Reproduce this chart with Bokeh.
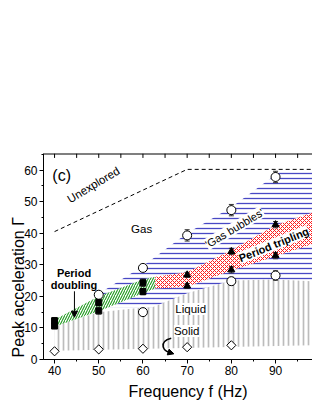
from bokeh.plotting import figure
from bokeh.models import Label, Title, SingleIntervalTicker, Arrow, NormalHead, Range1d
from bokeh.embed import file_html
from bokeh.resources import INLINE

FONT = "Liberation Sans"

# ---------------- data ----------------
# open circles: upper gas boundary
gas_f = [50, 60, 70, 80, 90]
gas_v = [20.5, 29.0, 39.3, 47.3, 57.8]
gas_err = [1.0, 0.8, 1.8, 1.8, 1.8]
# open circles: lower boundary of gas bubbles
bub_f = [60, 80, 90]
bub_v = [15.0, 24.8, 26.6]
bub_err = [0.6, 1.2, 1.5]
# black squares: period doubling
pd_f = [40, 40, 50, 50, 60, 60]
pd_v = [12.3, 10.6, 18.0, 15.4, 24.3, 21.5]
pd_err = [1.0, 0.8, 1.0, 1.0, 1.2, 1.0]
# black triangles: period tripling
pt_f = [70, 70, 80, 80, 90, 90]
pt_v = [26.8, 23.3, 34.2, 28.4, 42.7, 32.9]
pt_err = [0.8, 0.8, 1.0, 1.0, 1.0, 1.0]
# open diamonds: solid
solid_f = [40, 50, 60, 70, 80]
solid_v = [2.6, 3.2, 3.4, 3.9, 4.5]

# region boundaries
liquid_top_f = [40, 50, 60, 70, 80, 90, 102.5]
liquid_top = [10.5, 15.0, 16.5, 21.5, 25.0, 26.0, 26.5]
liquid_bot_f = [40, 102.5]
liquid_bot = [2.8, 4.6]

bubbles_top_f = [49.5, 50, 60, 70, 80, 90, 91.5, 102.5]
bubbles_top = [20.0, 20.8, 29.6, 40.0, 48.2, 58.5, 60.0, 60.0]
bubbles_bot_f = [49.5, 53, 62, 70, 80, 90, 102.5]
bubbles_bot = [16.5, 16.5, 16.5, 21.0, 25.0, 25.3, 24.5]

pdband_f = [40.3, 50, 60, 62.8]
pdband_low = [10.5, 15.3, 21.0, 22.5]
pdband_up = [12.8, 20.0, 25.3, 26.2]

ptband_f = [62.8, 70, 80, 90, 102.5]
ptband_low = [22.5, 23.0, 28.2, 32.7, 38.5]
ptband_up = [26.2, 27.6, 34.6, 42.5, 48.5]

unexplored_f = [40, 70, 102.5]
unexplored_v = [40.5, 60.2, 60.2]

top_tick_f = [40, 45, 50, 55, 60, 65, 70, 75, 80, 85, 90, 95, 100]

X_MIN, X_MAX = 37.5, 98.36
Y_MIN, Y_MAX = 0, 65.23


def poly(top_f, top_v, bot_f, bot_v):
    return list(top_f) + list(bot_f)[::-1], list(top_v) + list(bot_v)[::-1]


p = figure(width=312, height=403, x_range=Range1d(X_MIN, X_MAX), y_range=Range1d(Y_MIN, Y_MAX),
           output_backend="svg", toolbar_location=None,
           min_border_left=43, min_border_right=0, min_border_top=153, min_border_bottom=44)
p.outline_line_color = None
p.xgrid.visible = False
p.ygrid.visible = False
p.background_fill_color = "white"

for ax in (p.xaxis[0], p.yaxis[0]):
    ax.ticker = SingleIntervalTicker(interval=10, num_minor_ticks=2)
    ax.major_tick_out = 4
    ax.major_tick_in = 0
    ax.minor_tick_out = 2
    ax.minor_tick_in = 0
    ax.major_label_standoff = 2
    ax.major_label_text_font = FONT
    ax.major_label_text_font_size = "12px"
    ax.major_label_text_color = "black"
    ax.axis_line_color = "black"
    ax.major_tick_line_color = "black"
    ax.minor_tick_line_color = "black"

# axis titles (positioned like the original, which is cropped on the right)
p.add_layout(Title(text="Frequency f (Hz)", align="left", offset=85, standoff=6,
                   vertical_align="bottom", text_font=FONT, text_font_size="16px",
                   text_font_style="normal", text_color="black"), "below")
p.add_layout(Title(text="Peak acceleration Γ", align="left", offset=2, standoff=-11,
                   vertical_align="bottom", text_font=FONT, text_font_size="16px",
                   text_font_style="normal", text_color="black"), "left")

# ---------------- regions ----------------
lx, ly = poly(liquid_top_f, liquid_top, liquid_bot_f, liquid_bot)
p.patch(lx, ly, fill_color="white", line_color=None, hatch_pattern="vertical_line",
        hatch_color="#bcbcbc", hatch_weight=1.7, hatch_scale=5)

bx, by = poly(bubbles_top_f, bubbles_top, bubbles_bot_f, bubbles_bot)
p.patch(bx, by, fill_color="white", line_color=None, hatch_pattern="horizontal_line",
        hatch_color="#4848c4", hatch_weight=1.3, hatch_scale=5)

gx, gy = poly(pdband_f, pdband_up, pdband_f, pdband_low)
p.patch(gx, gy, fill_color="white", line_color=None, hatch_pattern="right_diagonal_line",
        hatch_color="#1f9a1f", hatch_weight=1.1, hatch_scale=5)

rx, ry = poly(ptband_f, ptband_up, ptband_f, ptband_low)
p.patch(rx, ry, fill_color="white", line_color=None, hatch_pattern="diagonal_cross",
        hatch_color="#ff1a1a", hatch_weight=1, hatch_scale=4)

p.line(unexplored_f, unexplored_v, line_color="black", line_width=1, line_dash="4 3")

# top frame border with inward ticks
p.segment(x0=[X_MIN], y0=[Y_MAX], x1=[102.5], y1=[Y_MAX], line_color="black", line_width=2)
p.segment(x0=top_tick_f, y0=[Y_MAX] * len(top_tick_f), x1=top_tick_f,
          y1=[Y_MAX - 1.4] * len(top_tick_f), line_color="black", line_width=1)

# ---------------- error bars ----------------
for fs, vs, es in ((gas_f, gas_v, gas_err), (bub_f, bub_v, bub_err),
                   (pd_f, pd_v, pd_err), (pt_f, pt_v, pt_err)):
    lo = [v - e for v, e in zip(vs, es)]
    hi = [v + e for v, e in zip(vs, es)]
    p.segment(fs, lo, fs, hi, line_color="#333333", line_width=1)
    p.scatter(fs + fs, lo + hi, marker="dash", size=5, line_color="#333333", line_width=1)

# ---------------- markers ----------------
p.scatter(solid_f, solid_v, marker="square", size=6.5, angle=0.785398, fill_color="white",
          line_color="black", line_width=1)
p.scatter(gas_f, gas_v, marker="circle", size=9, fill_color="white", line_color="black", line_width=1)
p.scatter(bub_f, bub_v, marker="circle", size=9, fill_color="white", line_color="black", line_width=1)
p.scatter(pd_f, pd_v, marker="square", size=6, fill_color="black", line_color="black")
p.scatter(pt_f, pt_v, marker="triangle", size=7, fill_color="black", line_color="black")

# curved arrow towards the solid points
p.bezier(x0=[66.4], y0=[6.7], x1=[66.8], y1=[2.0], cx0=[63.4], cy0=[5.6], cx1=[64.4], cy1=[2.1],
         line_color="black", line_width=1.5)
p.add_layout(Arrow(end=NormalHead(size=6, fill_color="black", line_color="black"),
                   x_start=66.2, y_start=2.15, x_end=67.0, y_end=1.8, line_width=1.5))

# period-doubling arrow
p.add_layout(Arrow(end=NormalHead(size=6, fill_color="black", line_color="black", line_width=1),
                   x_start=44.5, y_start=21.6, x_end=44.5, y_end=13.4, line_width=1))


def lab(x, y, text, size="11.5px", style="normal", angle=0, align="center", baseline="middle",
        bg=None):
    p.add_layout(Label(x=x, y=y, text=text, text_font=FONT, text_font_size=size,
                       text_font_style=style, angle=angle, angle_units="deg",
                       text_align=align, text_baseline=baseline,
                       background_fill_color=bg, text_color="black"))


lab(39.5, 58.4, "(c)", size="16px", align="left", baseline="alphabetic")
lab(48.8, 55.3, "Unexplored", angle=31)
lab(59.7, 41.3, "Gas")
lab(80.7, 41.6, "'Gas bubbles'", size="11px", angle=31, bg="white")
lab(89.6, 36.4, "Period tripling", size="11px", style="bold", angle=22, bg="white")
lab(44.4, 27.4, "Period", size="11px", style="bold")
lab(44.4, 23.5, "doubling", size="11px", style="bold")
lab(70.8, 16.0, "Liquid", bg="white")
lab(69.9, 9.0, "Solid", bg="white")

open("out.html", "w").write(file_html(p, INLINE))
